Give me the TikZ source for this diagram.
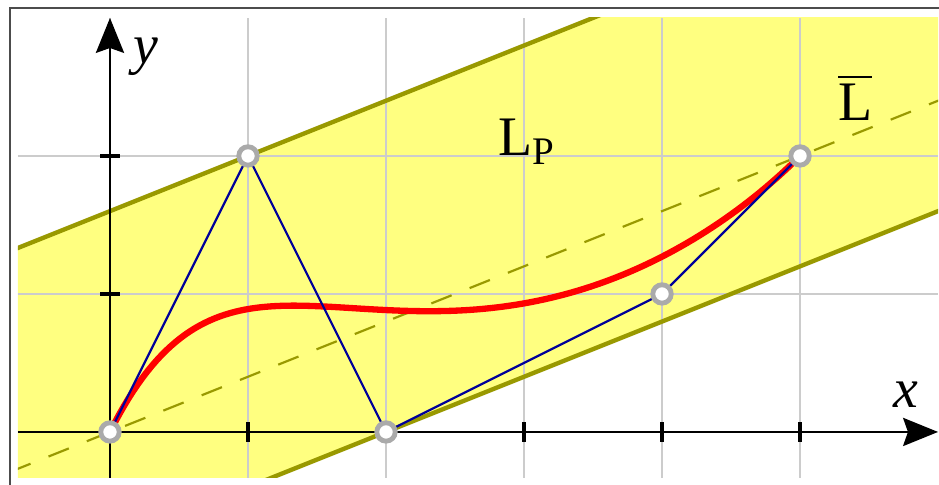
\documentclass[tikz,border=0pt]{standalone}
\usepackage{fontspec}
\setmainfont{Liberation Serif}
\usepackage{xcolor}
\usetikzlibrary{arrows.meta}
\definecolor{bandfill}{RGB}{255,255,128}
\definecolor{bandline}{RGB}{153,153,0}
\definecolor{polyblue}{RGB}{0,0,153}

\begin{document}
\begin{tikzpicture}[
  gridline/.style={draw={rgb,255:red,204;green,204;blue,204},line width=0.45pt},  band/.style={draw=bandline,line width=0.9pt},  fitline/.style={draw=bandline,line width=0.45pt,dash pattern=on 4.5pt off 4pt},  axis/.style={line width=0.5pt,-{Stealth[length=7.2pt,width=5.8pt,inset=1pt]}},  tick/.style={line width=0.65pt},  curve/.style={red,line width=1.3pt},  poly/.style={polyblue,line width=0.45pt},  ctrl/.style={circle,draw={rgb,255:red,170;green,170;blue,170},fill=white,line width=1pt,inner sep=0pt,minimum size=3.8pt},  lbl/.style={font=\fontsize{11.5}{13}\selectfont,inner sep=0pt,anchor=base west}
]
  \useasboundingbox (-0.797,-0.384) rectangle (6.007,3.130);
  \draw[line width=0.4pt,black!70] (-0.725,-0.384) |- (6.007,3.072);
  \begin{scope}
    \clip (-0.667,-0.333) rectangle (6.0,3.0);
    \fill[bandfill] (-1,1.2) -- (7,4.4) -- (7,2.0) -- (-1,-1.2) -- cycle;
    \foreach \x in {0,...,5} \draw[gridline] (\x,-0.333) -- (\x,3);
    \foreach \y in {1,2} \draw[gridline] (-0.667,\y) -- (6,\y);
    \draw[band] (-1,1.2) -- (7,4.4);
    \draw[band] (-1,-1.2) -- (7,2.0);
    \draw[fitline] (-1,-0.4) -- (7,2.8);
  \end{scope}
  \coordinate (xs) at (-0.667,0);
  \coordinate (xe) at (6.0,0);
  \coordinate (ys) at (0,-0.333);
  \coordinate (ye) at (0,3.0);
  \draw[axis] (xs) -- (xe);
  \draw[axis] (ys) -- (ye);
  \foreach \x in {1,...,5} \draw[tick] (\x,-0.072) -- (\x,0.072);
  \foreach \y in {1,2} \draw[tick] (-0.072,\y) -- (0.072,\y);
  \node[lbl] (xl) at (5.667,0.174) {\textit{x}};
  \node[lbl] (yl) at (0.16,2.67) {\textit{y}};
  \node[lbl] (lp) at (2.81,2.0) {L\textsubscript{P}};
  \node[lbl] (lbar) at (5.27,2.26) {$\overline{\hbox{L}}$};
  \draw[curve] plot[domain=0:1,samples=120,variable=\t]
    ({4*\t*(1-\t)^3+12*\t^2*(1-\t)^2+16*\t^3*(1-\t)+5*\t^4},
     {8*\t*(1-\t)^3+4*\t^3*(1-\t)+2*\t^4});
  \node[ctrl] (p0) at (0,0) {};
  \node[ctrl] (p1) at (1,2) {};
  \node[ctrl] (p2) at (2,0) {};
  \node[ctrl] (p3) at (4,1) {};
  \node[ctrl] (p4) at (5,2) {};
  \draw[poly] (p0) -- (p1) -- (p2) -- (p3) -- (p4);
\end{tikzpicture}
\end{document}
